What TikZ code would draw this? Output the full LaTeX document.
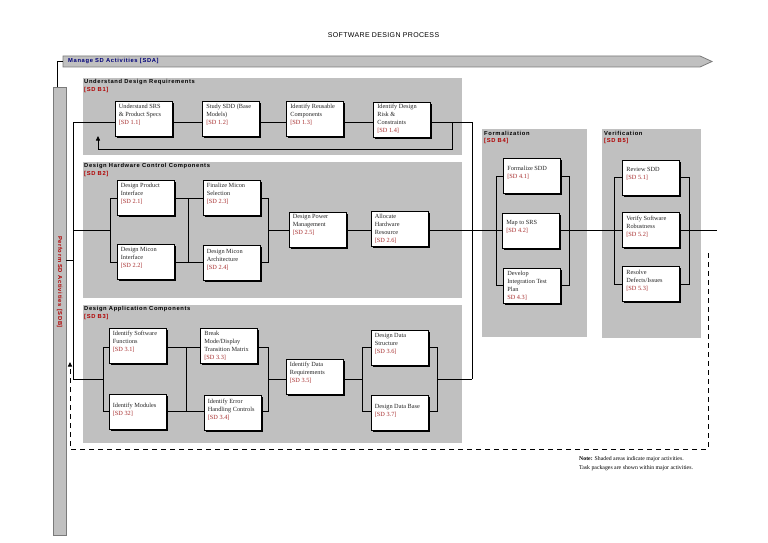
\documentclass[tikz,border=0pt]{standalone}
\usepackage{fontspec}
\setmainfont{Liberation Serif}
\setsansfont{Liberation Sans}
\newfontfamily\hdfont[LetterSpace=11]{Liberation Sans}
\newfontfamily\ttlfont[LetterSpace=5]{Liberation Sans}
\usetikzlibrary{shadows,arrows.meta}
\definecolor{shade}{HTML}{C0C0C0}
\definecolor{bord}{HTML}{7A7A7A}
\definecolor{lblred}{HTML}{A83030}
\definecolor{hdred}{HTML}{B00000}
\definecolor{navyc}{HTML}{00007A}
\tikzset{
  task/.style={draw=black, line width=0.8pt, fill=white, minimum width=57pt,
    minimum height=35pt, inner sep=0pt,
    drop shadow={shadow xshift=1.9pt, shadow yshift=-1.9pt, fill=black, opacity=1}},
  tasktext/.style={anchor=north west, align=left, inner sep=0pt,
    font=\fontsize{6.3}{8}\selectfont, text=black!85},
  region/.style={fill=shade, draw=none},
  rtitle/.style={anchor=west, inner sep=0pt, font=\hdfont\bfseries\fontsize{5.8}{6}\selectfont},
  conn/.style={line width=0.8pt, draw=black},
  dashconn/.style={line width=0.9pt, dash pattern=on 5pt off 4pt},
  bar/.style={fill=shade, draw=bord, line width=0.8pt},
  uptip/.style={-{Triangle[length=4.5pt,width=4pt]}}
}
\newcommand\sd[1]{\textcolor{lblred}{#1}}
\newcommand\taskbox[4][3]{%
  \node[task] (#2) at (#3) {};
  \node[tasktext] (#2t) at ([xshift=4pt,yshift=-#1pt]#2.north west) {#4};}
\begin{document}
\begin{tikzpicture}[x=1pt,y=-1pt]
\useasboundingbox (0,0) rectangle (768,543);
\fill[white] (0,0) rectangle (768,543);

% title
\node[font=\ttlfont\fontsize{7}{8}\selectfont] (title) at (383.5,35) {SOFTWARE DESIGN PROCESS};

% top bar (Manage)
\coordinate (sdaL) at (63,61.5);
\draw[bar] (63,56) -- (700,56) -- (712,61.5) -- (700,67) -- (63,67) -- cycle;
\node[rtitle, text=navyc] (sdalbl) at (68,61.5) {Manage SD Activities [SDA]};

% vertical bar (Perform)
\node[bar, minimum width=13pt, minimum height=448pt, inner sep=0pt] (sdb) at (59.5,311) {};
\node[rotate=-90, font=\hdfont\bfseries\fontsize{5.8}{6}\selectfont, text=hdred, inner sep=0pt] (sdblbl) at (59.5,282) {Perform SD Activities [SDB]};
\coordinate (k1) at (57,61.5);
\draw[conn] (sdaL) -- (k1) -- (k1 |- sdb.north);

% regions
\fill[region] (83,78) rectangle (462,155);
\node[rtitle] (t1) at (84,82.5) {Understand Design Requirements};
\node[rtitle, text=hdred] (t1b) at (84,90.5) {[SD B1]};
\fill[region] (83,162) rectangle (462,298);
\node[rtitle] (t2) at (84,166) {Design Hardware Control Components};
\node[rtitle, text=hdred] (t2b) at (84,174) {[SD B2]};
\fill[region] (83,305) rectangle (462,443);
\node[rtitle] (t3) at (84,309) {Design Application Components};
\node[rtitle, text=hdred] (t3b) at (84,317) {[SD B3]};
\fill[region] (482,129) rectangle (587,337);
\node[rtitle] (t4) at (484,133) {Formalization};
\node[rtitle, text=hdred] (t4b) at (484,141) {[SD B4]};
\fill[region] (602,129) rectangle (701,338);
\node[rtitle] (t5) at (604,133) {Verification};
\node[rtitle, text=hdred] (t5b) at (604,141) {[SD B5]};

% B1 boxes
\taskbox[2.5]{b11}{143.5,119}{Understand SRS\\\& Product Specs\\\sd{[SD 1.1]}}
\taskbox[2.5]{b12}{231,119}{Study SDD (Base\\Models)\\\sd{[SD 1.2]}}
\taskbox[2.5]{b13}{315,119}{Identify Reusable\\Components\\\sd{[SD 1.3]}}
\taskbox[2]{b14}{402,119.5}{Identify Design\\Risk \&\\Constraints\\\sd{[SD 1.4]}}
% B2 boxes
\taskbox[3]{b21}{145.5,198}{Design Product\\Interface\\\sd{[SD 2.1]}}
\taskbox[3]{b22}{145.5,262}{Design Micon\\Interface\\\sd{[SD 2.2]}}
\taskbox[3]{b23}{231.5,198}{Finalize Micon\\Selection\\\sd{[SD 2.3]}}
\taskbox[4]{b24}{231.5,263}{Design Micon\\Architecture\\\sd{[SD 2.4]}}
\taskbox[3]{b25}{317.5,229.5}{Design Power\\Management\\\sd{[SD 2.5]}}
\taskbox[2.5]{b26}{399.5,229}{Allocate\\Hardware\\Resource\\\sd{[SD 2.6]}}
% B3 boxes
\taskbox[3]{b31}{137.5,346}{Identify Software\\Functions\\\sd{[SD 3.1]}}
\taskbox[9]{b32}{137.5,412}{Identify Modules\\\sd{[SD 32]}}
\taskbox[2.5]{b33}{229,346}{Break\\Mode/Display\\Transition Matrix\\\sd{[SD 3.3]}}
\taskbox[4]{b34}{232.5,412.5}{Identify Error\\Handling Controls\\\sd{[SD 3.4]}}
\taskbox[3]{b35}{314.5,377}{Identify Data\\Requirements\\\sd{[SD 3.5]}}
\taskbox[3]{b36}{399.5,348}{Design Data\\Structure\\\sd{[SD 3.6]}}
\taskbox[10]{b37}{399.5,412.5}{Design Data Base\\\sd{[SD 3.7]}}
% B4 boxes
\taskbox[8]{b41}{532,176}{Formalize SDD\\\sd{[SD 4.1]}}
\taskbox[8]{b42}{531,230.5}{Map to SRS\\\sd{[SD 4.2]}}
\taskbox[3]{b43}{532,285.5}{Develop\\Integration Test\\Plan\\\sd{SD 4.3]}}
% B5 boxes
\taskbox[8]{b51}{651,177.5}{Review SDD\\\sd{[SD 5.1]}}
\taskbox[3.5]{b52}{651,230}{Verify Software\\Robustness\\\sd{[SD 5.2]}}
\taskbox[3.5]{b53}{651,284}{Resolve\\Defects/Issues\\\sd{[SD 5.3]}}

% spine
\coordinate (sp1) at (73,122);
\coordinate (sp2) at (73,230);
\coordinate (sp3) at (73,379);
\coordinate (spm) at (73,260);
\draw[conn] (sdb.east |- spm) -- (spm);
\draw[conn] (sp1) -- (sp3);

% B1 connectors
\coordinate (r1) at (0,122);
\draw[conn] (sp1) -- (b11.west |- r1);
\draw[conn] (b11.east |- r1) -- (b12.west |- r1);
\draw[conn] (b12.east |- r1) -- (b13.west |- r1);
\draw[conn] (b13.east |- r1) -- (b14.west |- r1);
\coordinate (j1) at (452,122);
\coordinate (jx) at (472,122);
\coordinate (jb) at (472,379);
\draw[conn] (b14.east |- r1) -- (jx) -- (jb);
\coordinate (fb1) at (452,149);
\coordinate (fb2) at (98,149);
\coordinate (fbtip) at (98,136);
\draw[conn, uptip] (j1) -- (fb1) -- (fb2) -- (fbtip);

% B2 connectors
\coordinate (s2u) at (110,198);
\coordinate (s2d) at (110,262);
\coordinate (s2m) at (110,230);
\draw[conn] (sp2) -- (s2m);
\draw[conn] (s2u) -- (s2d);
\draw[conn] (s2u) -- (b21.west |- s2u);
\draw[conn] (s2d) -- (b22.west |- s2d);
\coordinate (c2u) at (188,198);
\coordinate (c2d) at (188,262);
\draw[conn] (b21.east |- c2u) -- (b23.west |- c2u);
\draw[conn] (b22.east |- c2d) -- (b24.west |- c2d);
\draw[conn] (c2u) -- (c2d);
\coordinate (d2u) at (268,198);
\coordinate (d2d) at (268,262);
\coordinate (d2m) at (268,230);
\draw[conn] (b23.east |- d2u) -- (d2u) -- (d2d) -- (b24.east |- d2d);
\draw[conn] (d2m) -- (b25.west |- d2m);
\draw[conn] (b25.east |- d2m) -- (b26.west |- d2m);
\draw[conn] (b26.east |- d2m) -- (b42.west |- d2m);

% B3 connectors
\coordinate (s3u) at (103,347);
\coordinate (s3d) at (103,411);
\coordinate (s3m) at (103,379);
\draw[conn] (sp3) -- (s3m);
\draw[conn] (s3u) -- (s3d);
\draw[conn] (s3u) -- (b31.west |- s3u);
\draw[conn] (s3d) -- (b32.west |- s3d);
\coordinate (c3u) at (186,347);
\coordinate (c3d) at (186,411);
\draw[conn] (b31.east |- c3u) -- (b33.west |- c3u);
\draw[conn] (b32.east |- c3d) -- (b34.west |- c3d);
\draw[conn] (c3u) -- (c3d);
\coordinate (d3u) at (268,347);
\coordinate (d3d) at (268,411);
\coordinate (d3m) at (268,379);
\draw[conn] (b33.east |- d3u) -- (d3u) -- (d3d) -- (b34.east |- d3d);
\draw[conn] (d3m) -- (b35.west |- d3m);
\coordinate (e3u) at (362,347);
\coordinate (e3d) at (362,411);
\coordinate (e3m) at (362,379);
\draw[conn] (b35.east |- e3m) -- (e3m);
\draw[conn] (e3u) -- (e3d);
\draw[conn] (e3u) -- (b36.west |- e3u);
\draw[conn] (e3d) -- (b37.west |- e3d);
\coordinate (f3u) at (437,347);
\coordinate (f3d) at (437,411);
\coordinate (f3m) at (437,379);
\draw[conn] (b36.east |- f3u) -- (f3u) -- (f3d) -- (b37.east |- f3d);
\draw[conn] (f3m) -- (jb);

% B4 connectors
\coordinate (g4u) at (496,176);
\coordinate (g4d) at (496,285.5);
\draw[conn] (g4u) -- (g4d);
\draw[conn] (g4u) -- (b41.west |- g4u);
\draw[conn] (g4d) -- (b43.west |- g4d);
\coordinate (h4u) at (569,176);
\coordinate (h4d) at (569,285.5);
\draw[conn] (b41.east |- h4u) -- (h4u) -- (h4d) -- (b43.east |- h4d);
\draw[conn] (b42.east |- d2m) -- (b52.west |- d2m);

% B5 connectors
\coordinate (g5u) at (614,177.5);
\coordinate (g5d) at (614,284);
\draw[conn] (g5u) -- (g5d);
\draw[conn] (g5u) -- (b51.west |- g5u);
\draw[conn] (g5d) -- (b53.west |- g5d);
\coordinate (h5u) at (689,177.5);
\coordinate (h5d) at (689,284);
\draw[conn] (b51.east |- h5u) -- (h5u) -- (h5d) -- (b53.east |- h5d);
\coordinate (outend) at (717,230);
\draw[conn] (b52.east |- outend) -- (outend);

% dashed return
\coordinate (q1) at (708,253);
\coordinate (q2) at (708,449);
\coordinate (q3) at (70,449);
\coordinate (q4) at (70,362);
\draw[dashconn, uptip] (q1) -- (q2) -- (q3) -- (q4);

% note
\node[anchor=north west, align=left, inner sep=0pt, font=\fontsize{5.8}{9}\selectfont] (note) at (579,456.5)
  {\textbf{Note:} Shaded areas indicate major activities.\\Task packages are shown within major activities.};
\end{tikzpicture}
\end{document}
